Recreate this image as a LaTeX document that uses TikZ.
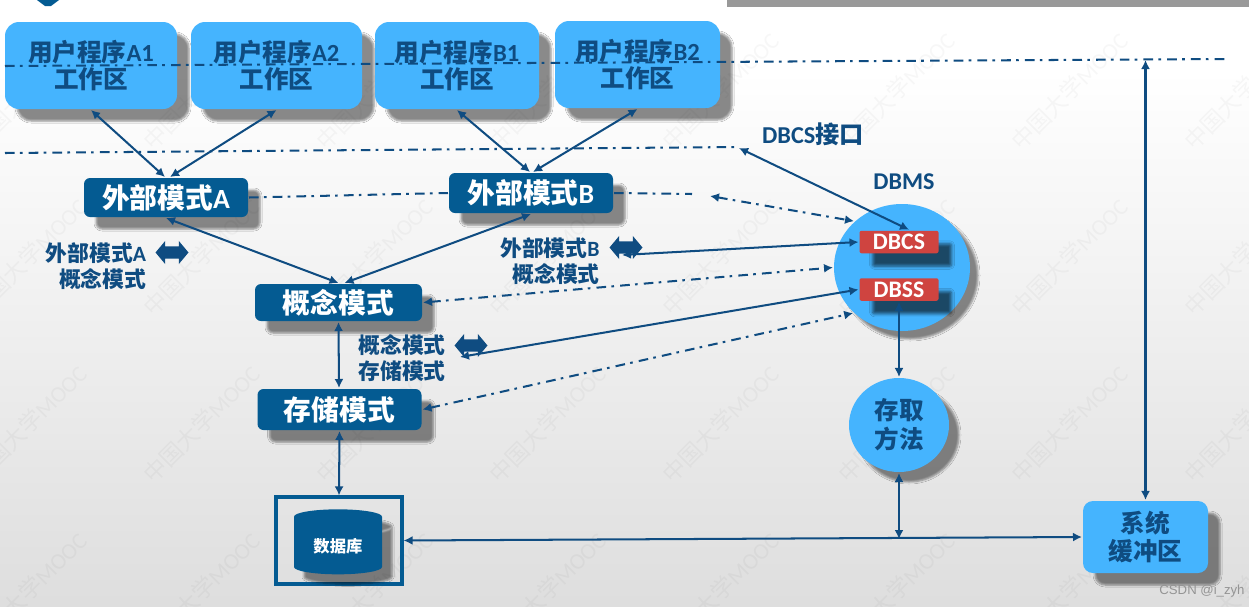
\documentclass[tikz,border=0pt]{standalone}
\usepackage{fontspec}
\setmainfont{Carlito}
\newfontfamily\cjk{Noto Sans CJK SC}
\newfontfamily\wmfont{Liberation Sans}
\usetikzlibrary{arrows.meta, shapes.geometric, shapes.arrows, shadows.blur}
\definecolor{cdark}{HTML}{0F4C81}
\definecolor{cbox}{HTML}{045B92}
\definecolor{clight}{HTML}{45B4FE}
\definecolor{cred}{HTML}{CF4440}
\definecolor{cshadow}{HTML}{999999}
\newcommand{\zh}[1]{{\cjk #1}}
\def\upx{0.02cm}
\tikzset{
  every picture/.style={line width=1.15pt},
  softshadow/.style={blur shadow={shadow xshift=#1*\upx, shadow yshift=-#1*\upx, shadow blur radius=2*\upx, shadow blur steps=5, shadow opacity=46}},
  lightbox/.style={fill=clight, rounded corners=14*\upx, text=cdark, align=center, inner sep=0pt,
    softshadow=12, font=\fontsize{14}{16.2}\selectfont\bfseries},
  darkbox/.style={fill=cbox, rounded corners=6*\upx, text=white, inner sep=0pt,
    softshadow=12, font=\fontsize{15.8}{18}\selectfont\bfseries, minimum width=164*\upx},
  redbox/.style={fill=cred, rounded corners=2*\upx, text=white, inner sep=0pt, minimum width=79*\upx, minimum height=22.5*\upx,
    blur shadow={shadow xshift=13*\upx, shadow yshift=-13*\upx, shadow blur radius=3*\upx, shadow blur steps=5, shadow opacity=60},
    font=\fontsize{13.5}{15}\selectfont\bfseries},
  label/.style={text=cdark, align=right, font=\fontsize{12.4}{14.8}\selectfont\bfseries},
  both/.style={{Latex[length=1.8mm,width=1.8mm]}-{Latex[length=1.8mm,width=1.8mm]}, draw=cdark},
  dashdot/.style={draw=cdark, dash pattern=on 5.5pt off 3pt on 1.5pt off 3.5pt},
  bothdot/.style={both, dashdot},
  blockarrow/.style={double arrow, fill=cdark, inner xsep=0pt, inner ysep=5*\upx, minimum height=33*\upx,
    double arrow head extend=5.5*\upx, double arrow head indent=0pt, double arrow tip angle=100},
  watermark/.style={rotate=45, anchor=west, text=black, opacity=0.03, font=\fontsize{13}{13}\selectfont},
}

\begin{document}
\begin{tikzpicture}[x=0.02cm, y=-0.02cm]
  \useasboundingbox (0,0) rectangle (1249,606);
  \fill[white] (0,0) rectangle (1249,70);
  \shade[top color=white, bottom color=black!13] (0,70) rectangle (1249,606);
  \fill[cshadow] (727,0) rectangle (1249,7);
  \fill[cbox] (37,0) -- (59,0) -- (51,6) -- (45,6) -- cycle;
  \begin{scope}
    \clip (0,0) rectangle (1249,606);
    \foreach \y in {150,316,483,650} \foreach \x in {-31,142,315,488,661,837,1010,1183}
      \node[watermark] (wm\x\y) at (\x,\y) {\zh{中国大学}MOOC};
  \end{scope}

  \foreach \w/\x/\y/\bw [count=\k] in {A1/91/65.5/172, A2/276.5/65.5/171, B1/457/65.5/164, B2/637.5/64.5/165}
    \node[lightbox, minimum width=\bw*\upx, minimum height=87*\upx] (u\k) at (\x,\y) {\zh{用户程序}\w\\[-0.5pt]\zh{工作区}};

  \node[darkbox, minimum height=39*\upx] (ea) at (166,197.5) {\zh{外部模式}A};
  \node[darkbox, minimum height=40*\upx] (eb) at (531,193) {\zh{外部模式}B};
  \node[darkbox, minimum width=167*\upx, minimum height=37*\upx] (cm) at (338.5,302.5) {\zh{概念模式}};
  \node[darkbox, minimum height=41*\upx] (sm) at (339.5,409.5) {\zh{存储模式}};
  \node[draw=cbox, line width=1.8pt, minimum width=126*\upx, minimum height=87*\upx, inner sep=0pt] (dbbox) at (339,540.5) {};
  \node[cylinder, shape border rotate=90, aspect=0.3, fill=cbox, text=white, inner sep=0pt, minimum width=88*\upx, minimum height=65*\upx,
    softshadow=10, font=\fontsize{9.3}{11}\selectfont\bfseries] (db) at (338,546) {\zh{数据库}};

  \node[ellipse, fill=clight, inner sep=0pt, minimum width=136*\upx, minimum height=127*\upx, softshadow=8] (dbms) at (902,267.5) {};
  \node[redbox] (dbcs) at (899,242) {DBCS};
  \node[redbox] (dbss) at (899,289.5) {DBSS};
  \node[ellipse, fill=clight, text=cdark, align=center, inner sep=0pt, minimum width=100*\upx, minimum height=94*\upx, softshadow=10,
    font=\fontsize{14}{16.5}\selectfont\bfseries] (am) at (899,425) {\zh{存取}\\\zh{方法}};
  \node[lightbox, rounded corners=10*\upx, minimum width=125*\upx, minimum height=72*\upx] (buf) at (1145.5,537) {\zh{系统}\\\zh{缓冲区}};

  \node[label] (la) at (96,266) {\zh{外部模式}A\\\zh{概念模式}};
  \node[label] (lb) at (550,261) {\zh{外部模式}B\\\zh{概念模式}};
  \node[label] (lc) at (402,358) {\zh{概念模式}\\\zh{存储模式}};
  \node[blockarrow] (ba) at (172,252.5) {};
  \node[blockarrow] (bb) at (626,247.5) {};
  \node[blockarrow] (bc) at (471,345.5) {};
  \node[text=cdark, font=\fontsize{13.8}{15}\selectfont\bfseries] (lifc) at (813,134) {DBCS\zh{接口}};
  \node[text=cdark, font=\fontsize{13.7}{15}\selectfont\bfseries] (ldbms) at (904,182) {DBMS};
  \node[text=black!42, font=\wmfont\fontsize{7.5}{9}\selectfont] (csdn) at (1202,591) {CSDN @i\_zyh};

  \coordinate (l1a) at (5,66);
  \coordinate (l1b) at (1226,59);
  \coordinate (l2a) at (5,153);
  \coordinate (l2b) at (740,147);
  \coordinate (l3b) at (692,194);
  \coordinate (top) at (1145.5,60);
  \coordinate (ifc) at (739,148);
  \coordinate (dot) at (710,196);
  \coordinate (ptb) at (622,255);
  \coordinate (ptc) at (460,357);
  \coordinate (junc) at (899,539);
  \draw[dashdot] (l1a) -- (l1b);
  \draw[dashdot] (l2a) -- (l2b);
  \draw[dashdot] (ea.east) -- (eb.west);
  \draw[dashdot] (eb.east) -- (l3b);

  \draw[both] (u1.south) -- ([xshift=-1*\upx]ea.north);
  \draw[both] (u2.south) -- ([xshift=4*\upx]ea.north);
  \draw[both] (u3.south) -- ([xshift=-1*\upx]eb.north);
  \draw[both] (u4.south) -- ([xshift=2*\upx]eb.north);
  \draw[both] (ea.south) -- (cm.north);
  \draw[both] (eb.south) -- ([xshift=6*\upx]cm.north);
  \draw[both] (cm.south) -- ([xshift=-0.5*\upx]sm.north);
  \draw[both] (sm.south) -- (dbbox.north);
  \draw[both] (ifc) -- ([xshift=10*\upx]dbcs.north);
  \draw[bothdot] (dot) -- (dbms.136);
  \draw[both] (ptb) -- (dbcs.west);
  \draw[bothdot] (cm.east) -- (dbms.west);
  \draw[both] (ptc) -- (dbss.west);
  \draw[bothdot] (sm.east) -- (dbms.223);
  \draw[both] (dbss.south) -- (am.north);
  \draw[both] (am.south) -- (junc);
  \draw[both] (dbbox.east) -- (buf.west);
  \draw[both] (top) -- (buf.north);
\end{tikzpicture}
\end{document}
